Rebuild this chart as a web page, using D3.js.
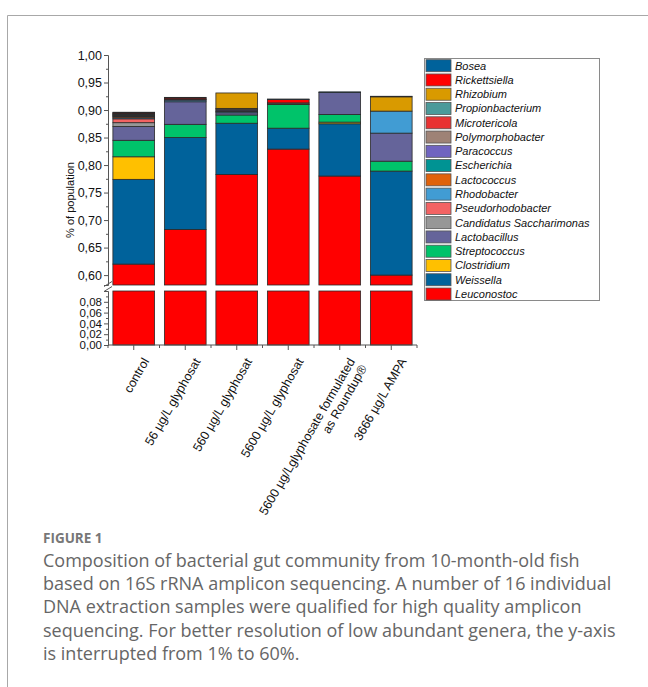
<!DOCTYPE html>
<html>
<head>
<meta charset="utf-8">
<script src="https://cdn.jsdelivr.net/npm/d3@7"></script>
<style>
  html, body { margin: 0; padding: 0; background: #fff; }
  svg { display: block; }
  .tick text { font-family: "Liberation Sans", Arial, sans-serif; }
</style>
</head>
<body>
<svg id="chart" width="648" height="687"></svg>
<script>
// Treatment groups (x categories); "|" splits a label over two lines
const categories = [
  "control",
  "56 µg/L glyphosat",
  "560 µg/L glyphosat",
  "5600 µg/L glyphosat",
  "5600 µg/Lglyphosate formulated|as Roundup®",
  "3666 µg/L AMPA"
];

// Relative abundance per genus, one value per treatment group
const leuconostoc       = [0.620, 0.683, 0.783, 0.829, 0.780, 0.600];
const weissella         = [0.154, 0.167, 0.093, 0.038, 0.095, 0.189];
const clostridium       = [0.041, 0.000, 0.000, 0.000, 0.003, 0.000];
const streptococcus     = [0.030, 0.024, 0.015, 0.043, 0.014, 0.018];
const lactobacillus     = [0.025, 0.041, 0.004, 0.000, 0.040, 0.051];
const candidatus        = [0.007, 0.000, 0.000, 0.000, 0.000, 0.000];
const pseudorhodobacter = [0.007, 0.000, 0.000, 0.000, 0.000, 0.000];
const rhodobacter       = [0.002, 0.003, 0.002, 0.000, 0.000, 0.040];
const lactococcus       = [0.002, 0.000, 0.001, 0.001, 0.000, 0.000];
const escherichia       = [0.001, 0.000, 0.000, 0.000, 0.000, 0.000];
const paracoccus        = [0.001, 0.001, 0.002, 0.000, 0.000, 0.000];
const polymorphobacter  = [0.001, 0.000, 0.002, 0.002, 0.000, 0.000];
const microtericola     = [0.001, 0.001, 0.000, 0.000, 0.000, 0.000];
const propionbacterium  = [0.001, 0.000, 0.001, 0.000, 0.000, 0.000];
const rhizobium         = [0.001, 0.000, 0.028, 0.000, 0.000, 0.026];
const rickettsiella     = [0.001, 0.002, 0.000, 0.006, 0.000, 0.000];
const bosea             = [0.001, 0.001, 0.000, 0.001, 0.001, 0.001];

// Genus names, bottom of the stack first
const genera = [
  "Leuconostoc", "Weissella", "Clostridium", "Streptococcus", "Lactobacillus",
  "Candidatus Saccharimonas", "Pseudorhodobacter", "Rhodobacter", "Lactococcus",
  "Escherichia", "Paracoccus", "Polymorphobacter", "Microtericola",
  "Propionbacterium", "Rhizobium", "Rickettsiella", "Bosea"
];
const seriesValues = [
  leuconostoc, weissella, clostridium, streptococcus, lactobacillus,
  candidatus, pseudorhodobacter, rhodobacter, lactococcus,
  escherichia, paracoccus, polymorphobacter, microtericola,
  propionbacterium, rhizobium, rickettsiella, bosea
];
const genusColors = [
  "#ff0000", "#00629b", "#ffc000", "#00c36a", "#65649a",
  "#979797", "#f36363", "#419cd3", "#e0620b",
  "#009393", "#7064c0", "#9e8276", "#e83232",
  "#4b9a9a", "#d99a00", "#ff0000", "#00629b"
];

// Tick values for the two y-axis segments
const upperTicks = [0.60, 0.65, 0.70, 0.75, 0.80, 0.85, 0.90, 0.95, 1.00];
const upperMinor = [0.625, 0.675, 0.725, 0.775, 0.825, 0.875, 0.925, 0.975];
const lowerTicks = [0.00, 0.02, 0.04, 0.06, 0.08];
const lowerMinor = [0.01, 0.03, 0.05, 0.07, 0.09];

const captionTitle = "FIGURE 1";
const captionLines = [
  "Composition of bacterial gut community from 10-month-old fish",
  "based on 16S rRNA amplicon sequencing. A number of 16 individual",
  "DNA extraction samples were qualified for high quality amplicon",
  "sequencing. For better resolution of low abundant genera, the y-axis",
  "is interrupted from 1% to 60%."
];

const svg = d3.select("#chart");
const font = "'Liberation Sans', Arial, sans-serif";
const fmt = v => d3.format(".2f")(v).replace(".", ",");
const axisColor = "#555";

// Outer figure frame
svg.append("path")
  .attr("d", "M7.5,700 L7.5,15.5 L660,15.5")
  .attr("fill", "none").attr("stroke", "#a8a8a8").attr("stroke-width", 1);

// Scales: band x, broken y (upper and lower segments)
const x = d3.scaleBand().domain(d3.range(categories.length))
  .range([108, 417]).paddingInner(0.19).paddingOuter(0.095);
const yUp = d3.scaleLinear().domain([0.582, 1.0]).range([285, 55]);
const yLo = d3.scaleLinear().domain([0, 0.1]).range([345, 291]);

// Stack the genera
const rows = categories.map((c, i) => {
  const r = { idx: i };
  genera.forEach((g, k) => { r[g] = seriesValues[k][i]; });
  return r;
});
const stacked = d3.stack().keys(genera)(rows);

const plot = svg.append("g");
stacked.forEach((layer, k) => {
  const segs = layer.filter(d => d[1] - d[0] > 0);
  // upper segment of the broken axis
  plot.selectAll(null)
    .data(segs.filter(d => d[1] > yUp.domain()[0]))
    .join("rect")
    .attr("x", d => x(d.data.idx))
    .attr("width", x.bandwidth())
    .attr("y", d => yUp(d[1]))
    .attr("height", d => yUp(Math.max(d[0], yUp.domain()[0])) - yUp(d[1]))
    .attr("fill", genusColors[k])
    .attr("stroke", "#2a2a2a").attr("stroke-width", 0.8);
  // lower segment of the broken axis
  plot.selectAll(null)
    .data(segs.filter(d => d[0] < yLo.domain()[1]))
    .join("rect")
    .attr("x", d => x(d.data.idx))
    .attr("width", x.bandwidth())
    .attr("y", d => yLo(Math.min(d[1], yLo.domain()[1])))
    .attr("height", d => yLo(d[0]) - yLo(Math.min(d[1], yLo.domain()[1])))
    .attr("fill", genusColors[k])
    .attr("stroke", "#2a2a2a").attr("stroke-width", 0.8);
});

// Y axes
function styleAxis(size) {
  return g => {
    g.selectAll("path.domain").attr("stroke", axisColor);
    g.selectAll(".tick line").attr("stroke", axisColor);
    g.selectAll(".tick text").attr("font-size", size).attr("fill", "#111");
  };
}
function minorTicks(g) {
  g.select(".domain").remove();
  g.selectAll("line").attr("stroke", axisColor);
}
svg.append("g").attr("transform", "translate(108,0)")
  .call(d3.axisLeft(yUp).tickValues(upperTicks).tickFormat(fmt).tickSizeOuter(0).tickSize(4).tickPadding(2))
  .call(styleAxis(12.5));
svg.append("g").attr("transform", "translate(108,0)")
  .call(d3.axisLeft(yUp).tickValues(upperMinor).tickFormat("").tickSize(2)).call(minorTicks);

svg.append("g").attr("transform", "translate(108,0)")
  .call(d3.axisLeft(yLo).tickValues(lowerTicks).tickFormat(fmt).tickSizeOuter(0).tickSize(4).tickPadding(2))
  .call(styleAxis(11.5));
svg.append("g").attr("transform", "translate(108,0)")
  .call(d3.axisLeft(yLo).tickValues(lowerMinor).tickFormat("").tickSize(2)).call(minorTicks);

// Axis break marks
const brk = svg.append("g").attr("stroke", axisColor).attr("stroke-width", 1);
[284, 289].forEach(yy => {
  brk.append("line").attr("x1", 104).attr("y1", yy + 2.5).attr("x2", 112).attr("y2", yy - 2.5);
});

// X axis with major ticks at bar centres and minor ticks between bars
const xAxisG = svg.append("g").attr("transform", "translate(0,345)");
xAxisG.append("line").attr("x1", 108).attr("x2", 417).attr("stroke", axisColor);
xAxisG.selectAll("line.major").data(d3.range(categories.length)).join("line")
  .attr("class", "major")
  .attr("x1", i => x(i) + x.bandwidth() / 2).attr("x2", i => x(i) + x.bandwidth() / 2)
  .attr("y1", 0).attr("y2", 5).attr("stroke", axisColor);
xAxisG.selectAll("line.minor").data(d3.range(categories.length + 1)).join("line")
  .attr("class", "minor")
  .attr("x1", i => 108 + i * x.step()).attr("x2", i => 108 + i * x.step())
  .attr("y1", 0).attr("y2", 3).attr("stroke", axisColor);

const xl = svg.append("g");
categories.forEach((c, i) => {
  const cx = x(i) + x.bandwidth() / 2;
  const t = xl.append("text")
    .attr("transform", `translate(${cx + 12},${359}) rotate(-60)`)
    .attr("text-anchor", "end")
    .attr("font-family", font).attr("font-size", 12.5).attr("fill", "#111");
  c.split("|").forEach((line, j) => {
    t.append("tspan").attr("x", 0).attr("dy", j === 0 ? "0.35em" : "1.1em").text(line);
  });
});

// Y label
svg.append("text")
  .attr("transform", "translate(70,200) rotate(-90)")
  .attr("text-anchor", "middle").attr("dy", "0.35em")
  .attr("font-family", font).attr("font-size", 11).attr("fill", "#111")
  .text("% of population");

// Legend, top entry first
const legend = svg.append("g");
legend.append("rect").attr("x", 424.5).attr("y", 58.5).attr("width", 175).attr("height", 242)
  .attr("fill", "#fff").attr("stroke", "#8a8a8a");
const legendOrder = d3.range(genera.length).reverse();
legendOrder.forEach((k, r) => {
  const cy = 65.7 + r * 14.27;
  legend.append("rect").attr("x", 426).attr("y", cy - 6).attr("width", 25).attr("height", 12)
    .attr("fill", genusColors[k]).attr("stroke", "#555").attr("stroke-width", 0.8);
  legend.append("text").attr("x", 455).attr("y", cy).attr("dy", "0.35em")
    .attr("font-family", font).attr("font-size", 11).attr("font-style", "italic").attr("fill", "#111")
    .text(genera[k]);
});

// Caption
const cap = svg.append("g").attr("font-family", "'Open Sans', 'Noto Sans', sans-serif");
cap.append("text").attr("x", 43).attr("y", 543)
  .attr("font-size", 13.5).attr("font-weight", 700).attr("fill", "#777")
  .text(captionTitle);
captionLines.forEach((line, i) => {
  cap.append("text").attr("x", 43).attr("y", 567 + i * 23.2)
    .attr("font-size", 18).attr("fill", "#666")
    .text(line);
});
</script>
</body>
</html>
